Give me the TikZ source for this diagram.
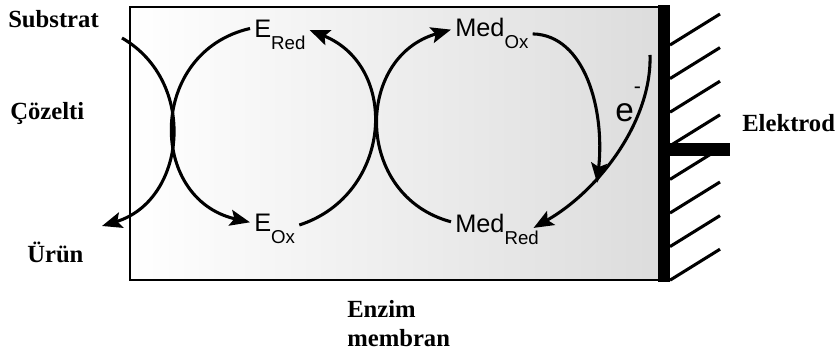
\documentclass[tikz,border=0pt]{standalone}
\usepackage{fontspec}
\setmainfont{Liberation Serif}
\newfontfamily\lblsans{Liberation Sans}
\usepackage{tikz}
\usetikzlibrary{arrows.meta, calc}
\definecolor{mbGray}{HTML}{DCDCDC}

\newcommand\subtxt[1]{\raisebox{-9pt}{\fontsize{14}{14}\selectfont #1}}

\begin{document}
\begin{tikzpicture}[
  x=0.75pt, y=0.75pt,
  side/.style={font=\bfseries\fontsize{18.5}{21.75}\selectfont, anchor=base west, inner sep=0pt, align=left},
  spec/.style={font=\lblsans\fontsize{19}{19}\selectfont, anchor=base west, inner sep=3pt},
  flow/.style={-{Stealth[length=15pt, width=12pt, inset=3pt]}, line width=2.3pt},
  hatch/.style={line width=2.3pt},
]
\useasboundingbox (0,0) rectangle (838,356);

% ---- membrane ----
\shade[left color=white, right color=mbGray] (130,76) rectangle (664,349);
\draw[line width=1.9pt] (664,349) -- (130,349) -- (130,76) -- (664,76);

% ---- electrode ----
\foreach \k in {0,...,7}
  \draw[hatch] (670,{311-33.6*\k}) -- ++(50,31);
\fill (658,74) rectangle (670,351);
\fill (670,200) rectangle (730,213);

% ---- side labels ----
\node[side] (substrat) at (8,328) {Substrat};
\node[side] (cozelti) at (10,236) {Çözelti};
\node[side] (urun) at (27,93) {Ürün};
\node[side] (elektrod) at (742,224) {Elektrod};
\node[side] (enzim) at (347,9) {Enzim\\membran};

% ---- species ----
\node[spec] (ered) at (250,318) {E\subtxt{Red}};
\node[spec] (eox) at (250,124) {E\subtxt{Ox}};
\node[spec] (medox) at (451,319) {Med\subtxt{Ox}};
\node[spec] (medred) at (451,123) {Med\subtxt{Red}};
\node[font=\lblsans\fontsize{25}{25}\selectfont, anchor=base west, inner sep=0pt] (eminus) at (615,234) {e\raisebox{21pt}{\fontsize{16}{16}\selectfont -}};

\coordinate (subIn) at (122,318);
\coordinate (prodOut) at (102,130);
\coordinate (merge) at (597,173);
\coordinate (eStart) at (650,301);

% ---- arrows ----
\draw[flow] (subIn) to[out=-30, in=17, looseness=1.19] (prodOut);
\draw[flow] (ered.167) to[out=193, in=167, looseness=1.39] (eox.164);
\draw[flow] (eox.10) to[out=18, in=-22, looseness=1.28] (ered.10);
\draw[flow] (medred.170) to[out=165, in=196, looseness=1.34] (medox.174);
\draw[flow] (medox.east) .. controls (585,321) and (605,246) .. (merge);
\draw[flow] (eStart) .. controls (652,236) and (600,166) .. ([shift={(-9.5,2)}]medred.east);
\end{tikzpicture}
\end{document}
